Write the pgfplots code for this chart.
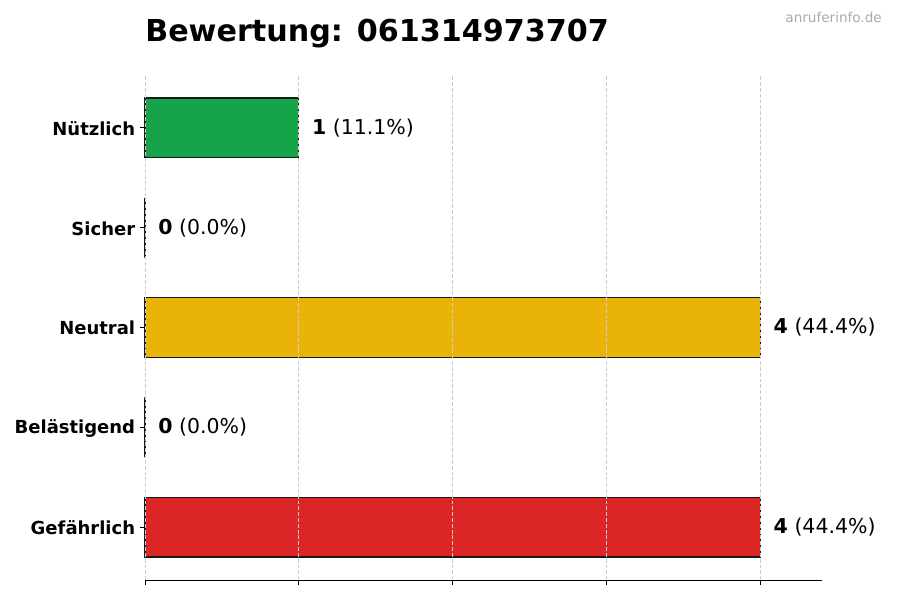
\documentclass[border=0pt]{standalone}
\usepackage{pgfplots}
\pgfplotsset{compat=1.18}
\usepackage{fontspec}
\setmainfont{DejaVu Sans}
\definecolor{nuetz}{HTML}{16A34A}
\definecolor{neutr}{HTML}{EAB308}
\definecolor{gefahr}{HTML}{DC2626}
\definecolor{gridgray}{HTML}{CCCCCC}
\definecolor{wmgray}{HTML}{AAAAAA}
\begin{document}
\begin{tikzpicture}
\path[use as bounding box] (0,0) rectangle (650.43pt,433.62pt);
\node[anchor=base west, inner sep=0pt, font=\fontsize{21.8}{26}\selectfont\bfseries]
  at (104.79pt,403.3pt) {Bewertung: 061314973707};
\node[anchor=base east, inner sep=0pt, font=\fontsize{9.8}{12}\selectfont, text=wmgray]
  at (637.4pt,417.4pt) {anruferinfo.de};
\begin{axis}[
  at={(104.79pt,14.45pt)}, anchor=south west,
  scale only axis, width=489.27pt, height=364.96pt,
  xbar, bar width=0.6,
  xmin=0, xmax=4.4, ymin=-0.53, ymax=4.53,
  axis x line*=bottom, axis y line*=left,
  y axis line style={draw=none},
  x axis line style={line width=0.6pt},
  xtick={0,1,2,3,4}, xticklabels={},
  ytick={0,1,2,3,4},
  yticklabels={Gefährlich,Belästigend,Neutral,Sicher,Nützlich},
  yticklabel style={font=\fontsize{13}{15}\selectfont\bfseries, yshift=-0.5pt},
  tick align=outside, major tick length=3.6pt,
  tick style={black, line width=0.6pt},
  xmajorgrids,
  grid style={gridgray, line width=0.6pt, dash pattern=on 2.8pt off 1.4pt},
  axis on top, clip=false,
  nodes near coords, point meta=explicit symbolic,
  every node near coord/.append style={anchor=west, inner sep=0pt, xshift=9.2pt,
    font=\fontsize{14.8}{17}\selectfont, text=black},
]
\addplot[fill=nuetz, draw=black!90, line width=0.8pt, bar shift=0pt]
  coordinates {(1,4) [{\textbf{1} (11.1\%)}]};
\addplot[fill=white, draw=black!90, line width=0.8pt, bar shift=0pt]
  coordinates {(0,3) [{\textbf{0} (0.0\%)}]};
\addplot[fill=neutr, draw=black!90, line width=0.8pt, bar shift=0pt]
  coordinates {(4,2) [{\textbf{4} (44.4\%)}]};
\addplot[fill=white, draw=black!90, line width=0.8pt, bar shift=0pt]
  coordinates {(0,1) [{\textbf{0} (0.0\%)}]};
\addplot[fill=gefahr, draw=black!90, line width=0.8pt, bar shift=0pt]
  coordinates {(4,0) [{\textbf{4} (44.4\%)}]};
\end{axis}
\end{tikzpicture}
\end{document}
